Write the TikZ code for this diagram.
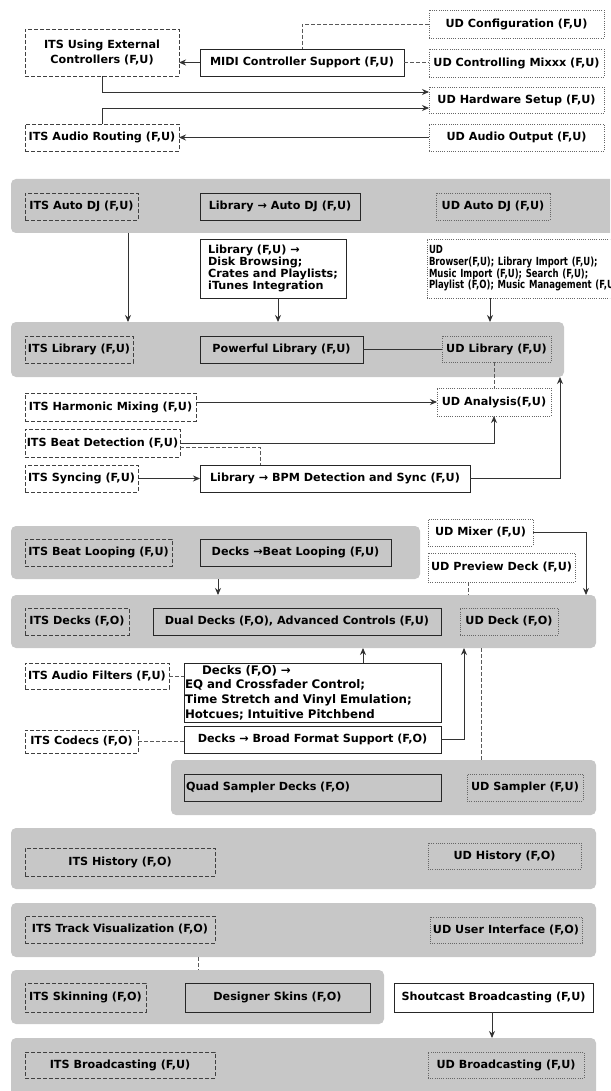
\documentclass[tikz,border=0pt]{standalone}
\usepackage{fontspec}
\setmainfont{DejaVu Sans}
\newfontfamily\narrowfont[FakeStretch=0.76]{DejaVu Sans}
\usetikzlibrary{arrows.meta}
\definecolor{grpgray}{RGB}{199,199,199}
\newcommand{\mybox}[7]{%
  \pgfmathsetmacro\myboxcx{(#3+#5)/2}%
  \pgfmathsetmacro\myboxcy{(#4+#6)/2}%
  \pgfmathsetmacro\myboxw{#5-#3}%
  \pgfmathsetmacro\myboxh{#6-#4}%
  \node[#1, minimum width=\myboxw pt, minimum height=\myboxh pt] (#2) at (\myboxcx,\myboxcy) {#7};}
\tikzset{
 base/.style={inner sep=0pt, outer sep=0pt, font=\bfseries\fontsize{11.2}{11.7}\selectfont, text=black},
 itsbox/.style={base, draw=black!75, dash pattern=on 4pt off 2pt, line width=0.9pt},
 udbox/.style={base, draw=black!60, dash pattern=on 1pt off 1.2pt, line width=0.8pt},
 solbox/.style={base, draw=black!85, line width=0.9pt},
 grp/.style={fill=grpgray, draw=none, rounded corners=5pt, inner sep=0pt, outer sep=0pt},
 arr/.style={draw=black!80, line width=0.9pt, -{Stealth[length=7pt,width=6pt]}},
 lnk/.style={draw=black!80, line width=0.9pt},
 dlnk/.style={draw=black!65, line width=0.9pt, dash pattern=on 4pt off 2pt},
}
\begin{document}
\begin{tikzpicture}[x=1pt,y=-1pt]
\useasboundingbox (0,0) rectangle (610,1091);
\clip (0,0) rectangle (610,1091);
% helper coordinates
\foreach \k in {102,128,198,218,260,278,302,363,464,468,481,490,492,494,560,586}{\coordinate (k\k) at (\k,0);}
\foreach \p in {92,108,443,447}{\coordinate (p\p) at (0,\p);}
% groups
\mybox{grp}{gAuto}{11}{179}{630}{233}{}
\mybox{grp}{gLib}{11}{322}{564}{377}{}
\mybox{grp}{gLoop}{11}{526}{420}{579}{}
\mybox{grp}{gDecks}{11}{595}{596}{648}{}
\mybox{grp}{gQuad}{171}{760}{596}{815}{}
\mybox{grp}{gHist}{11}{828}{596}{889}{}
\mybox{grp}{gTrack}{11}{903}{596}{957}{}
\mybox{grp}{gSkin}{11}{970}{384}{1024}{}
\mybox{grp}{gBroad}{11}{1038}{596}{1100}{}
% top section
\mybox{itsbox, align=center, font=\bfseries\fontsize{11.2}{15}\selectfont}{itsExt}{25}{29}{179}{76}{ITS Using External\\Controllers (F,U)}
\mybox{solbox}{midi}{200}{49}{404}{76}{MIDI Controller Support (F,U)}
\mybox{udbox}{udConf}{429}{10}{604}{38}{UD Configuration (F,U)}
\mybox{udbox}{udCtrl}{429}{49}{604}{77}{UD Controlling Mixxx (F,U)}
\mybox{udbox}{udHw}{429}{87}{604}{113}{UD Hardware Setup (F,U)}
\mybox{udbox}{udAudio}{429}{124}{604}{151}{UD Audio Output (F,U)}
\mybox{itsbox}{itsAudio}{25}{124}{179}{151}{ITS Audio Routing (F,U)}
% auto dj
\mybox{itsbox}{itsAuto}{25}{193}{138}{220}{ITS Auto DJ (F,U)}
\mybox{solbox}{libAuto}{200}{193}{360}{220}{Library → Auto DJ (F,U)}
\mybox{udbox}{udAuto}{436}{193}{550}{220}{UD Auto DJ (F,U)}
\mybox{solbox, align=left}{libMulti}{200}{239}{346}{298}{Library (F,U) →\\Disk Browsing;\\Crates and Playlists;\\iTunes Integration}
\mybox{udbox, align=left, text width=220pt, inner xsep=2pt, font=\narrowfont\bfseries\fontsize{11.2}{11.7}\selectfont}{udBrowser}{427}{239}{651}{298}{UD\\Browser(F,U); Library Import (F,U);\\Music Import (F,U); Search (F,U);\\Playlist (F,O); Music Management (F,U)}
% library
\mybox{itsbox}{itsLib}{25}{336}{133}{363}{ITS Library (F,U)}
\mybox{solbox}{powLib}{200}{336}{363}{363}{Powerful Library (F,U)}
\mybox{udbox}{udLib}{442}{336}{551}{362}{UD Library (F,U)}
\mybox{itsbox}{itsHarm}{25}{393}{196}{421}{ITS Harmonic Mixing (F,U)}
\mybox{udbox}{udAnal}{437}{388}{551}{416}{UD Analysis(F,U)}
\mybox{itsbox}{itsBeat}{25}{429}{180}{457}{ITS Beat Detection (F,U)}
\mybox{itsbox}{itsSync}{25}{465}{138}{492}{ITS Syncing (F,U)}
\mybox{solbox}{bpm}{200}{465}{470}{492}{Library → BPM Detection and Sync (F,U)}
% decks
\mybox{itsbox}{itsLoop}{25}{539}{172}{566}{ITS Beat Looping (F,U)}
\mybox{solbox}{decksLoop}{200}{539}{391}{566}{Decks →Beat Looping (F,U)}
\mybox{udbox}{udMixer}{428}{519}{533}{546}{UD Mixer (F,U)}
\mybox{udbox}{udPrev}{428}{553}{575}{582}{UD Preview Deck (F,U)}
\mybox{itsbox}{itsDecks}{25}{608}{129}{635}{ITS Decks (F,O)}
\mybox{solbox}{dual}{153}{608}{441}{635}{Dual Decks (F,O), Advanced Controls (F,U)}
\mybox{udbox}{udDeck}{460}{608}{558}{635}{UD Deck (F,O)}
\mybox{itsbox}{itsFilt}{25}{663}{169}{689}{ITS Audio Filters (F,U)}
\mybox{solbox, align=left, text width=255pt, inner xsep=1pt, font=\bfseries\fontsize{11.8}{14.7}\selectfont}{decksMulti}{184}{663}{441}{722}{\hspace*{17pt}Decks (F,O) →\\EQ and Crossfader Control;\\Time Stretch and Vinyl Emulation;\\Hotcues; Intuitive Pitchbend}
\mybox{itsbox}{itsCodecs}{25}{730}{138}{753}{ITS Codecs (F,O)}
\mybox{solbox}{broad}{184}{726}{441}{753}{Decks → Broad Format Support (F,O)}
\mybox{solbox, align=left, text width=253pt, inner xsep=2pt}{quad}{184}{774}{441}{801}{Quad Sampler Decks (F,O)}
\mybox{udbox}{udSamp}{467}{774}{583}{801}{UD Sampler (F,U)}
% bottom
\mybox{itsbox}{itsHist}{25}{848}{215}{876}{ITS History (F,O)}
\mybox{udbox}{udHist}{428}{843}{581}{869}{UD History (F,O)}
\mybox{itsbox}{itsTrack}{25}{916}{215}{943}{ITS Track Visualization (F,O)}
\mybox{udbox}{udUI}{430}{917}{582}{943}{UD User Interface (F,O)}
\mybox{itsbox}{itsSkin}{25}{983}{146}{1012}{ITS Skinning (F,O)}
\mybox{solbox}{skins}{185}{983}{370}{1012}{Designer Skins (F,O)}
\mybox{solbox}{shout}{394}{983}{593}{1012}{Shoutcast Broadcasting (F,U)}
\mybox{itsbox}{itsBroad}{25}{1052}{215}{1078}{ITS Broadcasting (F,U)}
\mybox{udbox}{udBroad}{428}{1052}{584}{1078}{UD Broadcasting (F,U)}
% connectors: top
\draw[arr] (midi.west) -- (midi.west -| itsExt.east);
\draw[dlnk] (udConf.west) -| (midi.north -| k302);
\draw[dlnk] (midi.east) -- (midi.east -| udCtrl.west);
\draw[arr] (itsExt.south) |- (udHw.west |- p92);
\draw[arr] (itsAudio.north) |- (udHw.west |- p108);
\draw[arr] (udAudio.west) -- (itsAudio.east);
% auto dj / library
\draw[arr] (gAuto.south -| k128) -- (gLib.north -| k128);
\draw[arr] (libMulti.south -| k278) -- (gLib.north -| k278);
\draw[arr] (udBrowser.south -| k490) -- (gLib.north -| k490);
\draw[lnk] (powLib.east) -- (powLib.east -| udLib.west);
\draw[dlnk] (udLib.south -| k494) -- (udAnal.north -| k494);
\draw[arr] (udAnal.west -| itsHarm.east) -- (udAnal.west);
\draw[arr] (itsBeat.east |- p443) -| (udAnal.south -| k494);
\draw[dlnk] (itsBeat.east |- p447) -| (bpm.north -| k260);
\draw[arr] (itsSync.east) -- (bpm.west);
\draw[arr] (bpm.east) -| (gLib.south -| k560);
% decks
\draw[arr] (gLoop.south -| k218) -- (gDecks.north -| k218);
\draw[arr] (udMixer.east) -| (gDecks.north -| k586);
\draw[dlnk] (udPrev.south -| k468) -- (gDecks.north -| k468);
\draw[dlnk] (gDecks.south -| k481) -- (gQuad.north -| k481);
\draw[dlnk] (itsFilt.east) -- (itsFilt.east -| decksMulti.west);
\draw[arr] (decksMulti.north -| k363) -- (gDecks.south -| k363);
\draw[dlnk] (itsCodecs.east) -- (itsCodecs.east -| broad.west);
\draw[arr] (broad.east) -| (gDecks.south -| k464);
% bottom
\draw[dlnk] (gTrack.south -| k198) -- (gSkin.north -| k198);
\draw[arr] (shout.south -| k492) -- (gBroad.north -| k492);
\end{tikzpicture}
\end{document}
